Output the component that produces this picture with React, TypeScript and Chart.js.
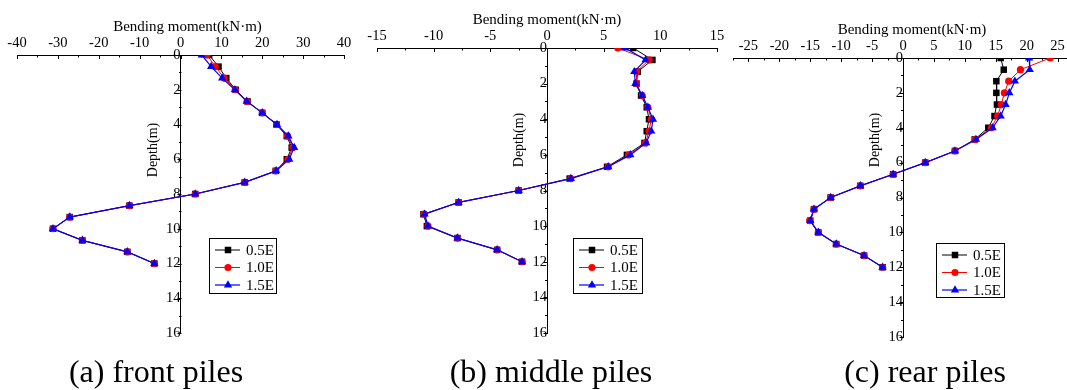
import React, { useEffect, useRef } from "react";
import { Chart, registerables } from "chart.js";

Chart.register(...registerables);

// ---------- data ----------
const depths = [0, 0.67, 1.33, 2, 2.67, 3.33, 4, 4.67, 5.33, 6, 6.67, 7.33, 8, 8.67, 9.33, 10, 10.67, 11.33, 12];
const seriesNames = ["0.5E", "1.0E", "1.5E"];

const frontE05 = [7.0, 9.3, 11.2, 13.5, 16.4, 20.0, 23.5, 26.0, 27.2, 26.0, 23.3, 15.7, 3.6, -12.5, -27.1, -31.2, -24.0, -13.0, -6.4];
const frontE10 = [6.5, 8.5, 10.7, 13.4, 16.3, 20.0, 23.5, 26.2, 27.5, 26.3, 23.3, 15.7, 3.6, -12.5, -27.1, -31.2, -24.0, -13.0, -6.4];
const frontE15 = [5.2, 7.5, 10.2, 13.3, 16.2, 20.0, 23.6, 26.4, 27.8, 26.6, 23.4, 15.7, 3.6, -12.5, -27.1, -31.2, -24.0, -13.0, -6.4];

const middleE05 = [7.6, 9.3, 8.0, 7.9, 8.3, 8.8, 9.0, 8.8, 8.6, 7.05, 5.3, 2.0, -2.5, -7.8, -10.9, -10.6, -7.9, -4.4, -2.2];
const middleE10 = [6.25, 9.0, 7.9, 7.9, 8.4, 8.9, 9.2, 9.0, 8.7, 7.2, 5.4, 2.1, -2.5, -7.8, -10.85, -10.5, -7.9, -4.4, -2.2];
const middleE15 = [6.9, 8.7, 7.7, 7.8, 8.4, 8.9, 9.35, 9.2, 8.75, 7.35, 5.4, 2.1, -2.5, -7.8, -10.8, -10.5, -7.9, -4.4, -2.2];

const rearE05 = [15.8, 16.3, 15.1, 15.1, 15.2, 14.8, 13.8, 11.6, 8.4, 3.6, -1.6, -6.9, -11.7, -14.4, -15.0, -13.7, -10.8, -6.3, -3.3];
const rearE10 = [23.8, 19.0, 17.1, 16.4, 15.9, 15.3, 14.3, 11.7, 8.4, 3.6, -1.6, -6.9, -11.7, -14.4, -15.1, -13.7, -10.8, -6.3, -3.3];
const rearE15 = [20.4, 20.5, 18.1, 17.2, 16.6, 15.8, 14.5, 11.8, 8.4, 3.6, -1.6, -6.9, -11.7, -14.4, -15.0, -13.7, -10.8, -6.3, -3.3];

const depthTicks = [0, 2, 4, 6, 8, 10, 12, 14, 16];
const frontMomentTicks = [-40, -30, -20, -10, 0, 10, 20, 30, 40];
const middleMomentTicks = [-15, -10, -5, 0, 5, 10, 15];
const rearMomentTicks = [-25, -20, -15, -10, -5, 0, 5, 10, 15, 20, 25];

const xTitle = "Bending moment(kN·m)";
const yTitle = "Depth(m)";
const captions = ["(a) front piles", "(b) middle piles", "(c) rear piles"];

// ---------- styles ----------
const FONT = "'Liberation Serif', 'Times New Roman', serif";
const colors = ["#000000", "#ff0000", "#0000ff"];
const pointStyles = ["rect", "circle", "triangle"];
const pointRadii = [4.6, 3.6, 4.8];
const lineWidths = [1, 1, 1.2];

type Panel = {
  series: number[][];
  ticks: number[];
  min: number;
  max: number;
  minorStep: number;
  canvasW: number;
  area: { left: number; top: number; right: number; bottom: number };
  titleDx: number;
  depthTitleY: number;
  legend: { x: number; y: number; w: number; h: number };
  captionX: number;
  caption: string;
};

const panels: Panel[] = [
  {
    series: [frontE05, frontE10, frontE15],
    ticks: frontMomentTicks,
    min: -40,
    max: 40,
    minorStep: 5,
    canvasW: 1067,
    area: { left: 17, top: 55, right: 344, bottom: 333 },
    titleDx: 7,
    depthTitleY: 150,
    legend: { x: 209, y: 238, w: 67, h: 55 },
    captionX: 156,
    caption: captions[0],
  },
  {
    series: [middleE05, middleE10, middleE15],
    ticks: middleMomentTicks,
    min: -15,
    max: 15,
    minorStep: 2.5,
    canvasW: 1067,
    area: { left: 377, top: 48, right: 717, bottom: 333 },
    titleDx: 0,
    depthTitleY: 140,
    legend: { x: 573, y: 238, w: 69, h: 55 },
    captionX: 551,
    caption: captions[1],
  },
  {
    series: [rearE05, rearE10, rearE15],
    ticks: rearMomentTicks,
    min: -27.5,
    max: 27.5,
    minorStep: 2.5,
    canvasW: 1100,
    area: { left: 733, top: 58, right: 1073, bottom: 337 },
    titleDx: 9,
    depthTitleY: 140,
    legend: { x: 936, y: 243, w: 68, h: 54 },
    captionX: 925,
    caption: captions[2],
  },
];

function drawMarker(ctx: CanvasRenderingContext2D, style: string, x: number, y: number, r: number, color: string) {
  ctx.save();
  ctx.fillStyle = color;
  ctx.beginPath();
  if (style === "rect") {
    const s = Math.SQRT1_2 * r;
    ctx.rect(x - s, y - s, 2 * s, 2 * s);
  } else if (style === "circle") {
    ctx.arc(x, y, r, 0, Math.PI * 2);
  } else {
    ctx.moveTo(x, y - r);
    ctx.lineTo(x + 0.866 * r, y + 0.5 * r);
    ctx.lineTo(x - 0.866 * r, y + 0.5 * r);
    ctx.closePath();
  }
  ctx.fill();
  ctx.restore();
}

function makeDecor(panel: Panel) {
  return {
    id: "decor",
    afterDraw(chart: any) {
      const ctx: CanvasRenderingContext2D = chart.ctx;
      const xs = chart.scales.x;
      const ys = chart.scales.y;
      const ca = chart.chartArea;
      ctx.save();
      ctx.strokeStyle = "#000";
      ctx.lineWidth = 1;
      // x ticks (pointing down)
      const nMinor = Math.round((panel.max - panel.min) / panel.minorStep);
      for (let i = 0; i <= nMinor; i++) {
        const v = panel.min + i * panel.minorStep;
        const major = panel.ticks.some((t) => Math.abs(t - v) < 1e-6);
        const px = Math.round(xs.getPixelForValue(v)) + 0.5;
        const len = major ? 4 : 2.5;
        ctx.beginPath();
        ctx.moveTo(px, ca.top);
        ctx.lineTo(px, ca.top + len);
        ctx.stroke();
      }
      // y ticks (pointing left)
      const x0 = Math.round(xs.getPixelForValue(0)) + 0.5;
      for (let d = 0; d <= 16; d++) {
        const py = Math.round(ys.getPixelForValue(d)) + 0.5;
        const len = d % 2 === 0 ? 4 : 2.5;
        ctx.beginPath();
        ctx.moveTo(x0 - len, py);
        ctx.lineTo(x0, py);
        ctx.stroke();
      }
      // x title
      ctx.fillStyle = "#000";
      ctx.font = `15px ${FONT}`;
      ctx.textAlign = "center";
      ctx.textBaseline = "alphabetic";
      ctx.fillText(xTitle, (ca.left + ca.right) / 2 + panel.titleDx, ca.top - 24);
      // y title
      ctx.save();
      ctx.translate(x0 - 28, panel.depthTitleY);
      ctx.rotate(-Math.PI / 2);
      ctx.font = `14px ${FONT}`;
      ctx.textAlign = "center";
      ctx.textBaseline = "middle";
      ctx.fillText(yTitle, 0, 0);
      ctx.restore();
      // legend
      const lg = panel.legend;
      ctx.fillStyle = "#fff";
      ctx.fillRect(lg.x, lg.y, lg.w, lg.h);
      ctx.strokeStyle = "#000";
      ctx.lineWidth = 1;
      ctx.strokeRect(Math.round(lg.x) + 0.5, Math.round(lg.y) + 0.5, lg.w, lg.h);
      const rowOffsets = [12, 29.5, 47];
      seriesNames.forEach((name, i) => {
        const ry = lg.y + rowOffsets[i];
        ctx.strokeStyle = colors[i];
        ctx.lineWidth = lineWidths[i];
        ctx.beginPath();
        ctx.moveTo(lg.x + 6, ry);
        ctx.lineTo(lg.x + 31, ry);
        ctx.stroke();
        drawMarker(ctx, pointStyles[i], lg.x + 19, ry, pointRadii[i], colors[i]);
        ctx.fillStyle = "#000";
        ctx.font = `15px ${FONT}`;
        ctx.textAlign = "left";
        ctx.textBaseline = "middle";
        ctx.fillText(name, lg.x + 37, ry + 1);
      });
      ctx.restore();
    },
  };
}

function PanelChart({ panel }: { panel: Panel }) {
  const ref = useRef<HTMLCanvasElement | null>(null);
  useEffect(() => {
    const canvas = ref.current;
    if (!canvas) return;
    const H = 390;
    const padding = {
      left: panel.area.left,
      right: panel.canvasW - panel.area.right,
      top: panel.area.top - 20,
      bottom: H - panel.area.bottom,
    };
    const datasets = panel.series.map((vals, i) => ({
      label: seriesNames[i],
      data: vals.map((v, k) => ({ x: v, y: depths[k] })),
      borderColor: colors[i],
      backgroundColor: colors[i],
      borderWidth: lineWidths[i],
      pointStyle: pointStyles[i],
      pointRadius: pointRadii[i],
      pointBorderWidth: 0,
      pointBackgroundColor: colors[i],
      showLine: true,
      tension: 0,
      order: 3 - i,
    }));
    const chart = new Chart(canvas, {
      type: "line",
      data: { datasets },
      options: {
        animation: false,
        responsive: false,
        devicePixelRatio: 1,
        layout: { padding },
        plugins: { legend: { display: false }, tooltip: { enabled: false } },
        scales: {
          x: {
            type: "linear",
            position: "top",
            min: panel.min,
            max: panel.max,
            afterBuildTicks: (scale: any) => {
              scale.ticks = panel.ticks.map((v) => ({ value: v }));
            },
            grid: { display: false, drawTicks: false },
            border: { display: true, color: "#000", width: 1 },
            ticks: {
              autoSkip: false,
              maxRotation: 0,
              padding: 3,
              color: "#000",
              font: { family: FONT, size: 14.5 },
              callback: (v: any) => String(v),
            },
          },
          y: {
            type: "linear",
            position: { x: 0 } as any,
            reverse: true,
            min: 0,
            max: 16,
            afterBuildTicks: (scale: any) => {
              scale.ticks = depthTicks.map((v) => ({ value: v }));
            },
            grid: { display: false, drawTicks: false },
            border: { display: true, color: "#000", width: 1 },
            ticks: {
              autoSkip: false,
              padding: 7,
              color: "#000",
              font: { family: FONT, size: 14.5 },
              callback: (v: any) => String(v),
            },
          },
        },
      },
      plugins: [makeDecor(panel)],
    });
    // fit chart area to the target rectangle
    for (let it = 0; it < 4; it++) {
      const ca = chart.chartArea;
      const dl = panel.area.left - ca.left;
      const dt = panel.area.top - ca.top;
      const dr = ca.right - panel.area.right;
      const db = ca.bottom - panel.area.bottom;
      if (Math.abs(dl) < 0.3 && Math.abs(dt) < 0.3 && Math.abs(dr) < 0.3 && Math.abs(db) < 0.3) break;
      padding.left += dl;
      padding.top += dt;
      padding.right += dr;
      padding.bottom += db;
      (chart.options as any).layout.padding = { ...padding };
      chart.update();
    }
    return () => chart.destroy();
  }, [panel]);
  return (
    <canvas
      ref={ref}
      width={panel.canvasW}
      height={390}
      style={{ position: "absolute", left: 0, top: 0, width: panel.canvasW, height: 390 }}
    />
  );
}

export default function App() {
  return (
    <div
      style={{
        position: "fixed",
        left: 0,
        top: 0,
        width: 1067,
        height: 390,
        overflow: "hidden",
        background: "#fff",
      }}
    >
      {panels.map((p, i) => (
        <PanelChart key={i} panel={p} />
      ))}
      {panels.map((p, i) => (
        <div
          key={"c" + i}
          style={{
            position: "absolute",
            left: p.captionX - 150,
            width: 300,
            top: 355,
            textAlign: "center",
            fontFamily: FONT,
            fontSize: 32,
            lineHeight: "32px",
            color: "#000",
            whiteSpace: "nowrap",
          }}
        >
          {p.caption}
        </div>
      ))}
    </div>
  );
}
